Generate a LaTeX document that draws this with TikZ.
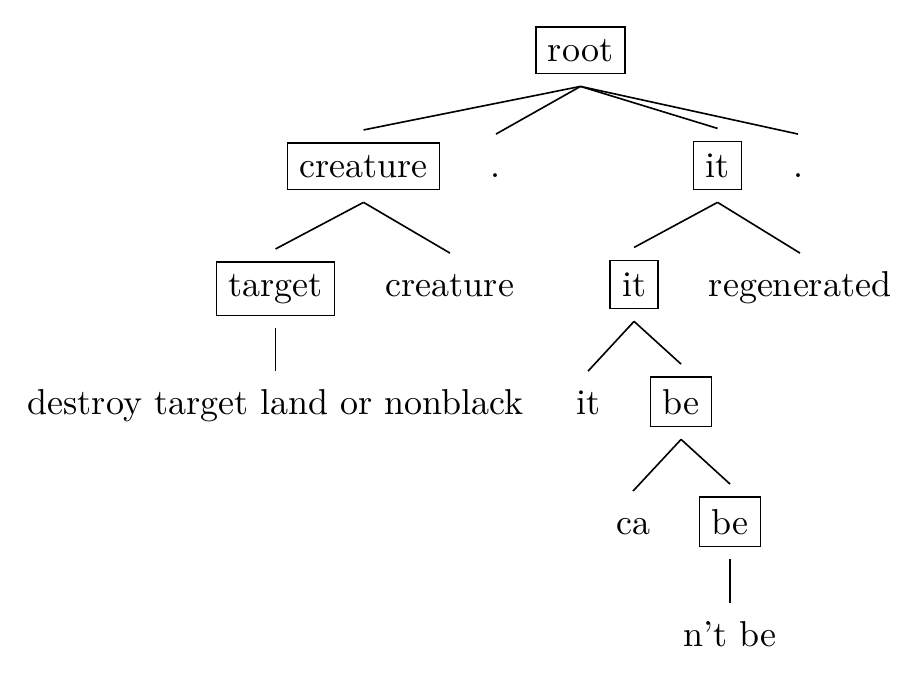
\documentclass[tikz,border=0pt]{standalone}
\usepackage{tikz}
\tikzset{
  cabeza/.style={rectangle,draw,anchor=base,inner sep=3.33pt,outer ysep=3.6pt},
  hoja/.style={rectangle,anchor=base,inner sep=3.33pt,outer ysep=3.6pt,text height=5pt},
  rama/.style={line width=0.45pt}
}
\begin{document}
\begin{tikzpicture}
\useasboundingbox (0,0) rectangle (8.845,-6.697);

% 0. Raiz
\node[cabeza] (root) at (5.667,-0.596) {root};

% 1. Primer nivel
\node[cabeza] (creatureA) at (3.549,-1.728) {creature};
\node[hoja] (puntoA) at (4.842,-1.728) {.};
\node[cabeza] (itA) at (7.005,-1.728) {it};
\node[hoja] (puntoB) at (7.791,-1.728) {.};

\draw[rama] (root.south)--(creatureA.north);
\draw[rama] (root.south)--(puntoA.north);
\draw[rama] (root.south)--(itA.north);
\draw[rama] (root.south)--(puntoB.north);

% 2. Segundo nivel
\node[cabeza] (target) at (2.690,-2.890) {target};
\node[hoja] (creatureB) at (4.393,-2.890) {creature};
\node[cabeza] (itB) at (6.190,-2.890) {it};
\node[hoja] (regen) at (7.810,-2.890) {regenerated};

\draw[rama] (creatureA.south)--(target.north);
\draw[rama] (creatureA.south)--(creatureB.north);
\draw[rama] (itA.south)--(itB.north);
\draw[rama] (itA.south)--(regen.north);

% 3. Tercer nivel
\node[hoja] (destroy) at (2.690,-4.042) {destroy target land or nonblack};
\node[hoja] (itC) at (5.741,-4.042) {it};
\node[cabeza] (beA) at (6.649,-4.042) {be};

\draw[rama] (target.south)--(destroy.north);
\draw[rama] (itB.south)--(itC.north);
\draw[rama] (itB.south)--(beA.north);

% 4. Niveles inferiores
\node[hoja] (ca) at (6.180,-5.213) {ca};
\node[cabeza] (beB) at (7.127,-5.213) {be};
\node[hoja] (ntbe) at (7.127,-6.307) {n't be};

\draw[rama] (beA.south)--(ca.north);
\draw[rama] (beA.south)--(beB.north);
\draw[rama] (beB.south)--(ntbe.north);

\end{tikzpicture}
\end{document}
